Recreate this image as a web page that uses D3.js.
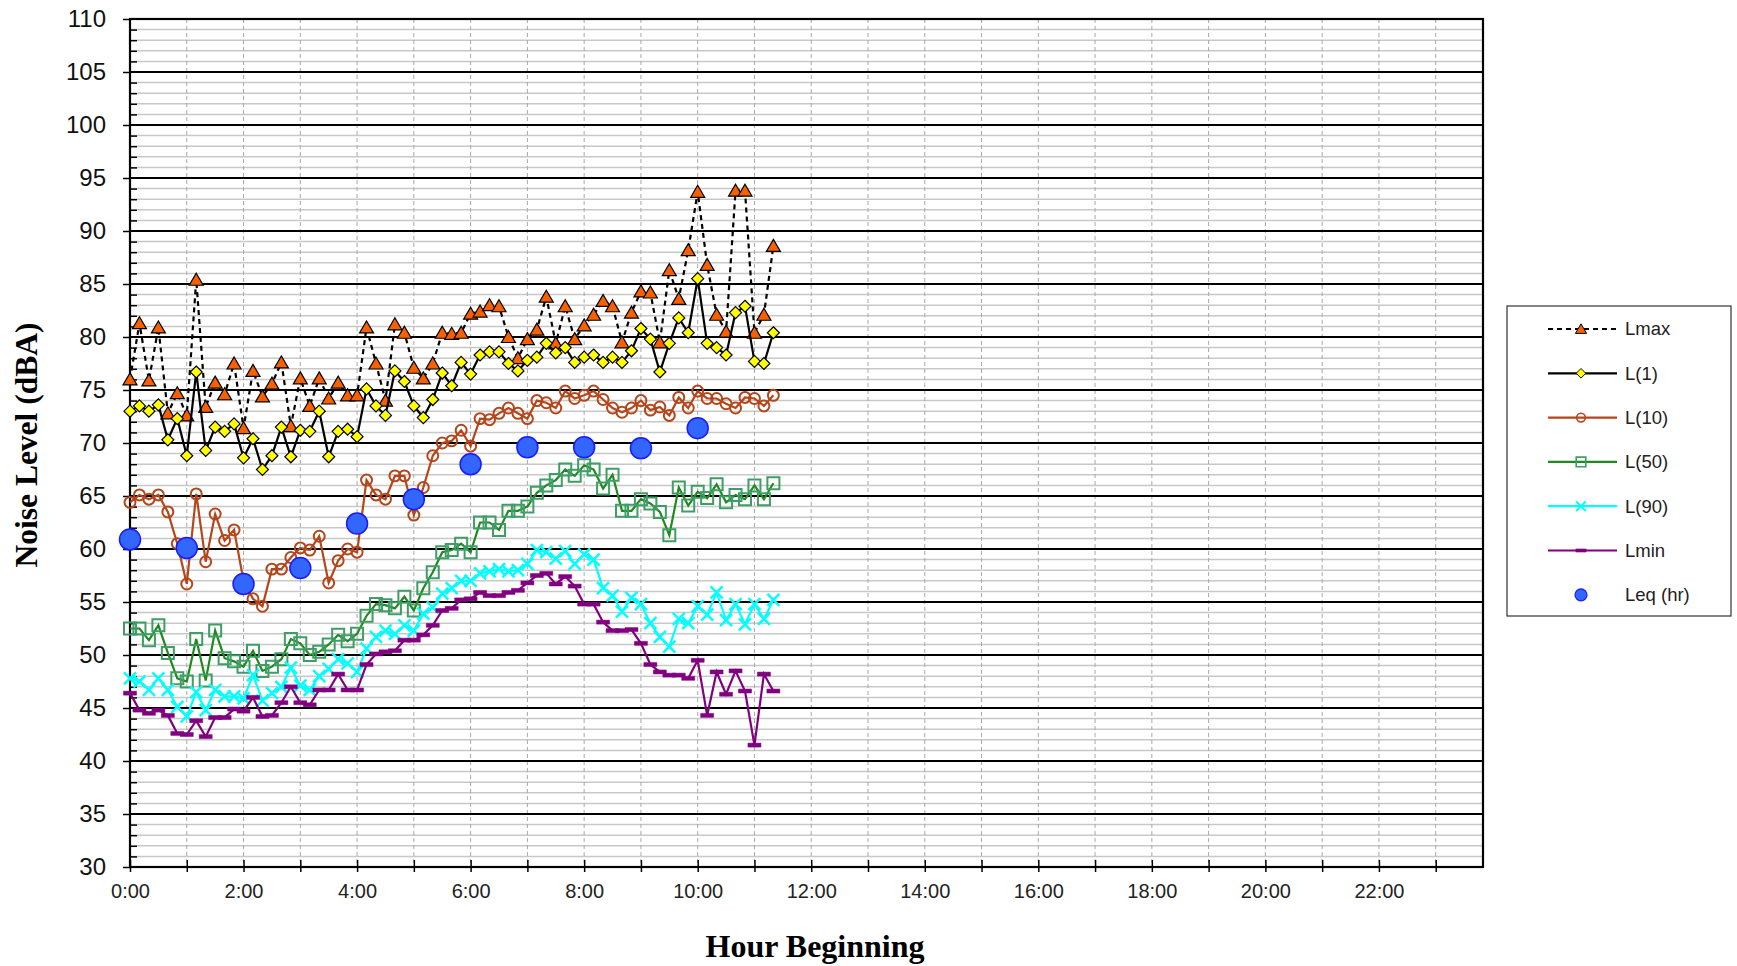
<!DOCTYPE html>
<html>
<head>
<meta charset="utf-8">
<script src="https://cdn.jsdelivr.net/npm/d3@7"></script>
<style>
  html, body { margin: 0; padding: 0; background: #fff; }
  svg { display: block; }
</style>
</head>
<body>
<svg id="chart" width="1737" height="966"></svg>
<script>
// ---------- DATA ----------
const times = ["0:00","0:10","0:20","0:30","0:40","0:50","1:00","1:10","1:20","1:30","1:40","1:50",
  "2:00","2:10","2:20","2:30","2:40","2:50","3:00","3:10","3:20","3:30","3:40","3:50",
  "4:00","4:10","4:20","4:30","4:40","4:50","5:00","5:10","5:20","5:30","5:40","5:50",
  "6:00","6:10","6:20","6:30","6:40","6:50","7:00","7:10","7:20","7:30","7:40","7:50",
  "8:00","8:10","8:20","8:30","8:40","8:50","9:00","9:10","9:20","9:30","9:40","9:50",
  "10:00","10:10","10:20","10:30","10:40","10:50","11:00","11:10","11:20"];

const lmax = [76.0,81.3,75.9,80.9,72.8,74.7,72.6,85.4,73.4,75.7,74.6,77.5,
  71.4,76.8,74.4,75.6,77.6,71.6,76.1,73.5,76.1,74.2,75.7,74.5,
  74.5,80.9,77.5,74.0,81.2,80.4,77.1,76.1,77.5,80.4,80.3,80.4,
  82.2,82.4,83.0,82.9,80.0,78.0,79.8,80.7,83.8,79.4,82.9,79.8,
  81.1,82.1,83.4,82.9,79.5,82.3,84.3,84.2,79.5,86.3,83.6,88.2,
  93.7,86.8,82.1,80.5,93.8,93.8,80.4,82.1,88.6];

const l1 = [73.0,73.5,73.0,73.6,70.3,72.3,68.8,76.7,69.3,71.5,71.1,71.8,
  68.6,70.4,67.5,68.8,71.5,68.7,71.2,71.1,73.0,68.7,71.1,71.3,
  70.6,75.1,73.5,72.6,76.8,75.8,73.5,72.4,74.1,76.6,75.4,77.6,
  76.5,78.3,78.6,78.6,77.5,76.8,77.8,78.1,79.4,78.5,79.0,77.6,
  78.1,78.3,77.6,78.1,77.6,78.7,80.8,79.8,76.7,79.4,81.8,80.4,
  85.5,79.4,79.0,78.3,82.3,82.9,77.7,77.5,80.4];

const l10 = [64.4,65.1,64.7,65.1,63.5,60.5,56.7,65.2,58.8,63.3,60.8,61.8,
  57.0,55.3,54.6,58.1,58.1,59.2,60.1,59.9,61.2,56.8,58.9,60.0,
  59.7,66.5,65.1,64.7,66.9,66.9,63.2,65.8,68.8,70.0,70.2,71.2,
  69.7,72.3,72.2,72.8,73.3,72.8,72.3,74.0,73.8,73.3,74.9,74.2,
  74.5,74.9,74.1,73.3,72.9,73.3,74.0,73.1,73.4,72.6,74.3,73.3,
  74.9,74.2,74.2,73.7,73.3,74.3,74.2,73.5,74.5];

const l50 = [52.5,52.5,51.4,52.8,50.2,47.8,47.5,51.5,47.6,52.3,49.7,49.4,
  48.9,50.4,48.5,48.9,49.6,51.5,51.1,50.0,50.3,51.0,51.9,51.3,
  52.0,53.7,54.8,54.7,54.4,55.5,54.2,56.3,57.8,59.7,59.9,60.5,
  59.7,62.5,62.5,61.8,63.6,63.6,64.0,65.3,66.0,66.5,67.5,66.9,
  67.9,67.5,65.7,67.0,63.6,63.6,64.7,64.3,63.5,61.3,65.8,64.1,
  65.4,64.8,66.1,64.4,65.1,64.7,66.0,64.7,66.2];

const l90 = [47.8,47.5,46.7,47.8,46.7,45.1,44.2,46.5,44.8,46.7,46.1,46.1,
  45.9,48.1,45.7,46.4,47.0,48.8,47.1,46.7,48.0,48.7,49.6,49.2,
  48.4,50.6,51.7,52.3,52.0,52.8,52.3,53.9,54.5,55.8,56.3,57.0,
  57.0,57.7,57.9,58.1,57.9,58.0,58.6,59.9,59.7,59.1,59.8,58.6,
  59.5,59.0,56.3,55.6,54.1,55.4,54.8,53.0,51.7,50.8,53.4,53.0,
  54.6,53.8,55.9,53.3,54.8,52.9,54.8,53.4,55.2];

const lmin = [46.4,44.8,44.5,44.8,44.3,42.6,42.5,43.8,42.3,44.1,44.1,44.9,
  44.7,46.0,44.2,44.3,45.5,47.0,45.5,45.3,46.7,46.7,48.2,46.7,
  46.7,49.1,50.1,50.3,50.4,51.4,51.4,51.9,52.8,54.2,54.4,55.2,
  55.3,55.9,55.6,55.6,55.9,56.1,56.8,57.5,57.7,56.7,57.4,56.5,
  54.8,54.8,53.1,52.3,52.3,52.4,51.1,49.1,48.4,48.1,48.1,47.8,
  49.5,44.3,48.4,46.3,48.5,46.6,41.5,48.2,46.6];

const leqTimes = ["0:00","1:00","2:00","3:00","4:00","5:00","6:00","7:00","8:00","9:00","10:00"];
const leq = [60.9,60.1,56.7,58.2,62.4,64.7,68.0,69.6,69.6,69.5,71.4];

const xTickLabels = ["0:00","2:00","4:00","6:00","8:00","10:00","12:00","14:00","16:00","18:00","20:00","22:00"];
const yTickLabels = [30,35,40,45,50,55,60,65,70,75,80,85,90,95,100,105,110];

// ---------- LAYOUT ----------
const L = 130, R = 1483, T = 19, B = 867;
const toHours = s => { const [h, m] = s.split(":").map(Number); return h + m / 60; };

const x = d3.scaleLinear().domain([0, 23 + 50 / 60]).range([L, R]);
const y = d3.scaleLinear().domain([30, 110]).range([B, T]);

const svg = d3.select("#chart");
const font = "Arial, 'Liberation Sans', sans-serif";

// ---------- GRID ----------
const grid = svg.append("g");
const minorVals = d3.range(30, 111).filter(v => v % 5 !== 0);
grid.selectAll("line.minor").data(minorVals).join("line")
  .attr("x1", L).attr("x2", R).attr("y1", d => y(d)).attr("y2", d => y(d))
  .attr("stroke", "#c8c8c8").attr("stroke-width", 1.5);
const hourVals = d3.range(1, 24);
grid.selectAll("line.vert").data(hourVals).join("line")
  .attr("x1", d => x(d)).attr("x2", d => x(d)).attr("y1", T).attr("y2", B)
  .attr("stroke", "#a8a8a8").attr("stroke-width", 1).attr("stroke-dasharray", "4,3");
grid.selectAll("line.major").data(yTickLabels).join("line")
  .attr("x1", L).attr("x2", R).attr("y1", d => y(d)).attr("y2", d => y(d))
  .attr("stroke", "#000").attr("stroke-width", 2.2);

// ---------- AXES ----------
const yAxis = svg.append("g").attr("transform", `translate(${L},0)`)
  .call(d3.axisLeft(y).tickValues(yTickLabels).tickSize(7).tickPadding(17).tickFormat(d3.format("d")));
const yMinor = svg.append("g").attr("transform", `translate(${L},0)`)
  .call(d3.axisLeft(y).tickValues(minorVals).tickSize(-7).tickFormat(""));
const xAxis = svg.append("g").attr("transform", `translate(0,${B})`)
  .call(d3.axisBottom(x).tickValues(d3.range(0, 24)).tickSize(5).tickPadding(12)
    .tickFormat(d => (d % 2 === 0 ? xTickLabels[d / 2] : "")));
const xInner = svg.append("g").attr("transform", `translate(0,${B})`)
  .call(d3.axisBottom(x).tickValues(d3.range(0, 24)).tickSize(-7).tickFormat(""));

[yAxis, yMinor, xAxis, xInner].forEach(g => {
  g.select(".domain").remove();
  g.selectAll(".tick line").attr("stroke", "#000").attr("stroke-width", 1.5);
});
yAxis.selectAll(".tick text").attr("font-family", font).attr("font-size", 24).attr("fill", "#111");
xAxis.selectAll(".tick text").attr("font-family", font).attr("font-size", 20).attr("fill", "#222");

// plot frame
svg.append("rect").attr("x", L).attr("y", T).attr("width", R - L).attr("height", B - T)
  .attr("fill", "none").attr("stroke", "#000").attr("stroke-width", 2.2);

// ---------- TITLES ----------
svg.append("text").attr("x", 815).attr("y", 957).attr("text-anchor", "middle")
  .attr("font-family", "'Liberation Serif', 'Times New Roman', serif").attr("font-weight", "bold")
  .attr("font-size", 32).text("Hour Beginning");
svg.append("text").attr("transform", "translate(37,445) rotate(-90)").attr("text-anchor", "middle")
  .attr("font-family", "'Liberation Serif', 'Times New Roman', serif").attr("font-weight", "bold")
  .attr("font-size", 31.5).text("Noise Level (dBA)");

// ---------- MARKERS ----------
const shapes = {
  triangle: "M0,-6.5L7,5.5L-7,5.5Z",
  diamond: "M0,-6L6,0L0,6L-6,0Z",
  circle: d3.symbol(d3.symbolCircle, Math.PI * 30)(),
  square: "M-6,-6H6V6H-6Z",
  cross: "M-6,-6L6,6M-6,6L6,-6",
  dash: "M-6.5,-2H6.5V2H-6.5Z"
};

const series = [
  { name: "Lmax", values: lmax, line: "#000", dash: "5,4", shape: "triangle", fill: "#f76000", mstroke: "#000", mw: 1.2 },
  { name: "L(1)", values: l1, line: "#000", dash: null, shape: "diamond", fill: "#ffff00", mstroke: "#000", mw: 1.2 },
  { name: "L(10)", values: l10, line: "#b4461a", dash: null, shape: "circle", fill: "none", mstroke: "#b4461a", mw: 2 },
  { name: "L(50)", values: l50, line: "#1f8a1f", dash: null, shape: "square", fill: "none", mstroke: "#3e9e66", mw: 2 },
  { name: "L(90)", values: l90, line: "#00ffff", dash: null, shape: "cross", fill: "none", mstroke: "#00ffff", mw: 2.5 },
  { name: "Lmin", values: lmin, line: "#800080", dash: null, shape: "dash", fill: "#800080", mstroke: "#800080", mw: 0.5 }
];

const line = d3.line().x(d => x(d[0])).y(d => y(d[1]));

series.forEach(s => {
  const pts = s.values.map((v, i) => [toHours(times[i]), v]);
  const g = svg.append("g");
  g.append("path").attr("d", line(pts)).attr("fill", "none")
    .attr("stroke", s.line).attr("stroke-width", 2.2)
    .attr("stroke-dasharray", s.dash);
  g.selectAll("path.m").data(pts).join("path").attr("class", "m")
    .attr("d", shapes[s.shape])
    .attr("transform", d => `translate(${x(d[0])},${y(d[1])})`)
    .attr("fill", s.fill).attr("stroke", s.mstroke).attr("stroke-width", s.mw);
});

// Leq hourly
svg.append("g").selectAll("circle").data(leq.map((v, i) => [toHours(leqTimes[i]), v])).join("circle")
  .attr("cx", d => x(d[0])).attr("cy", d => y(d[1])).attr("r", 10.5)
  .attr("fill", "#3366ff").attr("stroke", "#1a1aff").attr("stroke-width", 1.5);

// ---------- LEGEND ----------
const lg = svg.append("g");
lg.append("rect").attr("x", 1507).attr("y", 306).attr("width", 224).attr("height", 310)
  .attr("fill", "#fff").attr("stroke", "#333").attr("stroke-width", 1.2);
const rowY = d => 329 + d * 44.3;
series.forEach((s, i) => {
  const gy = rowY(i);
  lg.append("line").attr("x1", 1548).attr("x2", 1617).attr("y1", gy).attr("y2", gy)
    .attr("stroke", s.line).attr("stroke-width", 2.2).attr("stroke-dasharray", s.dash);
  lg.append("path").attr("d", shapes[s.shape]).attr("transform", `translate(1581,${gy}) scale(0.8)`)
    .attr("fill", s.fill).attr("stroke", s.mstroke).attr("stroke-width", s.mw);
  lg.append("text").attr("x", 1625).attr("y", gy).attr("dy", "0.35em")
    .attr("font-family", font).attr("font-size", 18.5).attr("fill", "#222").text(s.name);
});
lg.append("circle").attr("cx", 1581).attr("cy", rowY(6)).attr("r", 6)
  .attr("fill", "#3366ff").attr("stroke", "#1a1aff").attr("stroke-width", 1.2);
lg.append("text").attr("x", 1625).attr("y", rowY(6)).attr("dy", "0.35em")
  .attr("font-family", font).attr("font-size", 18.5).attr("fill", "#222").text("Leq (hr)");
</script>
</body>
</html>
